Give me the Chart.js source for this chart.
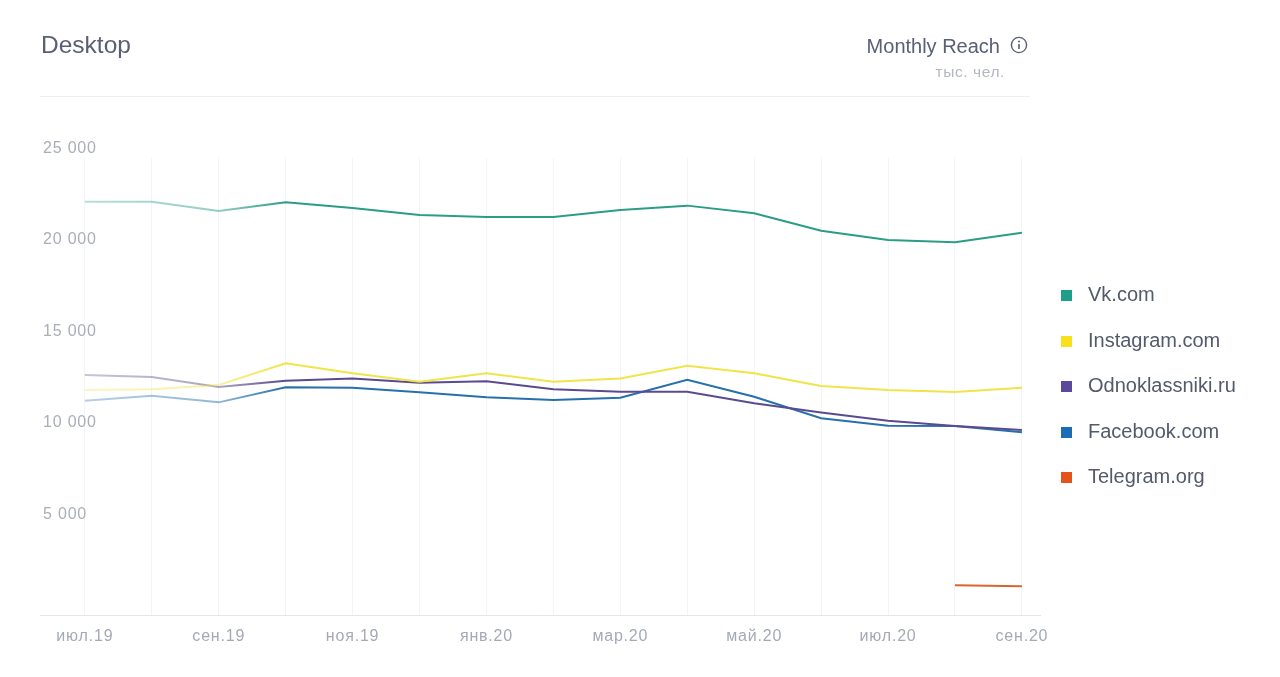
<!DOCTYPE html>
<html>
<head>
<meta charset="utf-8">
<script src="https://cdn.jsdelivr.net/npm/chart.js@4"></script>
<style>
  html, body { margin: 0; padding: 0; background: #fff; }
  body { width: 1280px; height: 677px; position: relative; overflow: hidden; font-family: "Liberation Sans", Arial, sans-serif; }
  #wrap { position: absolute; left: 0; top: 0; width: 1280px; height: 677px; }
  .title { position: absolute; left: 41px; top: 33px; font-size: 24.5px; line-height: 24px; color: #5a6073; }
  .metric { position: absolute; right: 280px; top: 36px; font-size: 20px; line-height: 20px; color: #596075; white-space: nowrap; }
  .info { position: absolute; left: 1010px; top: 36px; width: 18px; height: 18px; }
  .unit { position: absolute; right: 275px; top: 64px; font-size: 15.5px; line-height: 15px; color: #b3b7c0; letter-spacing: 0.6px; }
  .sep { position: absolute; left: 40px; top: 96px; width: 990px; height: 1px; background: #eceef2; }
  .legend { position: absolute; left: 1061px; top: 0; }
  .litem { position: absolute; left: 0; height: 20px; display: flex; align-items: center; white-space: nowrap; }
  .lbox { width: 11px; height: 11px; margin-right: 16px; margin-top: 3px; }
  .ltext { font-size: 20px; line-height: 20px; color: #535a6b; }
</style>
</head>
<body>
<div id="wrap"><canvas id="c"></canvas></div>
<div class="title">Desktop</div>
<div class="metric">Monthly Reach</div>
<svg class="info" viewBox="0 0 18 18">
  <circle cx="9" cy="9" r="7.6" fill="none" stroke="#596075" stroke-width="1.4"/>
  <line x1="9" y1="8" x2="9" y2="13" stroke="#596075" stroke-width="1.6"/>
  <circle cx="9" cy="5.4" r="1" fill="#596075"/>
</svg>
<div class="unit">тыс. чел.</div>
<div class="sep"></div>
<div class="legend" id="legend"></div>
<script>
// ---- data ----
const months = ["июл.19","авг.19","сен.19","окт.19","ноя.19","дек.19","янв.20","фев.20","мар.20","апр.20","май.20","июн.20","июл.20","авг.20","сен.20"];
const seriesNames = ["Vk.com","Instagram.com","Odnoklassniki.ru","Facebook.com","Telegram.org"];
const vkValues = [22580, 22580, 22080, 22550, 22240, 21860, 21750, 21750, 22130, 22370, 21950, 21000, 20490, 20370, 20890];
const instagramValues = [12300, 12330, 12570, 13750, 13210, 12750, 13210, 12750, 12930, 13620, 13210, 12510, 12300, 12190, 12420];
const okValues = [13110, 13010, 12460, 12800, 12930, 12690, 12770, 12330, 12200, 12200, 11570, 11060, 10620, 10330, 10110];
const facebookValues = [11710, 11980, 11620, 12440, 12420, 12170, 11900, 11750, 11870, 12860, 11930, 10750, 10340, 10330, 9980];
const telegramValues = [null, null, null, null, null, null, null, null, null, null, null, null, null, 1620, 1570];
const yTicks = [5000, 10000, 15000, 20000, 25000];
const lineColors = ["#2b9d87", "#f0e448", "#5a4a8f", "#2670ad", "#d8652f"];
const legendColors = ["#1f9e89", "#f7e11c", "#5b4a9b", "#1a6db5", "#e5531a"];
const legendY = [284, 330, 375, 421, 466];

// ---- legend (HTML) ----
const lg = document.getElementById('legend');
seriesNames.forEach((n, i) => {
  const d = document.createElement('div');
  d.className = 'litem';
  d.style.top = legendY[i] + 'px';
  d.innerHTML = '<span class="lbox" style="background:' + legendColors[i] + '"></span><span class="ltext">' + n + '</span>';
  lg.appendChild(d);
});

function hexA(hex, a) {
  const r = parseInt(hex.slice(1,3),16), g = parseInt(hex.slice(3,5),16), b = parseInt(hex.slice(5,7),16);
  return 'rgba(' + r + ',' + g + ',' + b + ',' + a + ')';
}
function fadeColor(color) {
  return (ctx) => {
    const chart = ctx.chart;
    const area = chart.chartArea;
    const xs = chart.scales.x;
    if (!area || !xs) return color;
    const x2 = xs.getPixelForValue(2), x3 = xs.getPixelForValue(3);
    const g = chart.ctx.createLinearGradient(area.left, 0, x3, 0);
    const mid = (x2 - area.left) / (x3 - area.left);
    g.addColorStop(0, hexA(color, 0.28));
    g.addColorStop(mid, hexA(color, 0.5));
    g.addColorStop(1, hexA(color, 1));
    return g;
  };
}

const allValues = [vkValues, instagramValues, okValues, facebookValues, telegramValues];
const datasets = seriesNames.map((n, i) => ({
  label: n,
  data: allValues[i].map((v, k) => ({ x: k, y: v })),
  borderColor: i < 4 ? fadeColor(lineColors[i]) : lineColors[i],
  backgroundColor: lineColors[i],
  borderWidth: 2,
  pointRadius: 0,
  pointHoverRadius: 0,
  tension: 0,
  spanGaps: false,
  fill: false
}));

const fmt = v => String(v).replace(/\B(?=(\d{3})+(?!\d))/g, ' ');

const spacing = {
  id: 'spacing',
  beforeDraw(chart) { chart.ctx.letterSpacing = '0.8px'; }
};

Chart.defaults.font.family = '"Liberation Sans", Arial, sans-serif';

new Chart(document.getElementById('c'), {
  type: 'line',
  data: { datasets },
  options: {
    responsive: true,
    maintainAspectRatio: false,
    animation: false,
    layout: { padding: { left: 40, right: 240, top: 157.5, bottom: 22 } },
    plugins: { legend: { display: false }, tooltip: { enabled: false }, title: { display: false } },
    scales: {
      x: {
        type: 'linear',
        min: -0.67,
        max: 14.27,
        afterBuildTicks: s => { s.ticks = months.map((m, k) => ({ value: k })); },
        afterFit: s => { s.height = 40; },
        grid: { color: '#f3f4f7', lineWidth: 1, drawTicks: false },
        border: { display: true, color: '#e2e5ee', width: 1 },
        ticks: {
          autoSkip: false,
          maxRotation: 0,
          padding: 12,
          color: '#a4a9b4',
          font: { size: 16 },
          callback: (v) => (v % 2 === 0 ? months[v] : '')
        }
      },
      y: {
        min: 0,
        max: 25000,
        afterBuildTicks: s => { s.ticks = yTicks.map(v => ({ value: v })); },
        afterFit: s => { s.width = 0; },
        grid: { display: false, drawTicks: false },
        border: { display: false },
        ticks: {
          mirror: true,
          padding: 3,
          labelOffset: -9,
          color: '#a9aeb8',
          font: { size: 16 },
          callback: v => fmt(v)
        }
      }
    }
  },
  plugins: [spacing]
});
</script>
</body>
</html>
